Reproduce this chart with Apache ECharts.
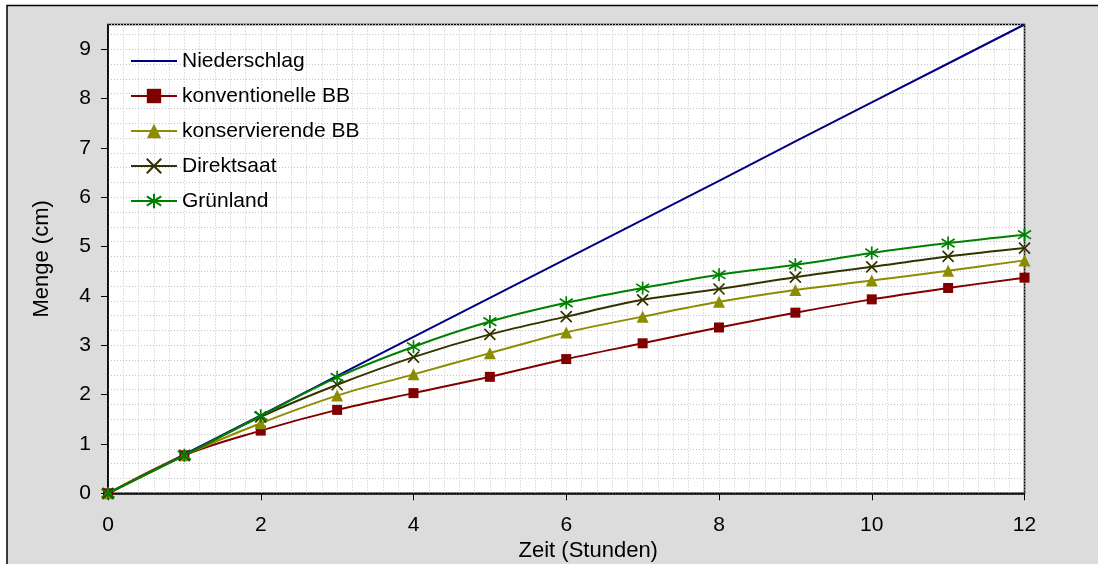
<!DOCTYPE html>
<html>
<head>
<meta charset="utf-8">
<script src="https://cdn.jsdelivr.net/npm/echarts@6/dist/echarts.min.js"></script>
<style>
html,body{margin:0;padding:0;background:#fff;}
#chart{width:1098px;height:564px;}
</style>
</head>
<body>
<div id="chart"></div>
<script>
var hours = [0, 1, 2, 3, 4, 5, 6, 7, 8, 9, 10, 11, 12];
var niederschlag = [0, 0.79, 1.58, 2.38, 3.17, 3.96, 4.75, 5.54, 6.33, 7.13, 7.92, 8.71, 9.5];
var konventionelle = [0, 0.77, 1.27, 1.69, 2.03, 2.36, 2.72, 3.04, 3.36, 3.66, 3.93, 4.16, 4.37];
var konservierende = [0, 0.77, 1.42, 1.98, 2.41, 2.84, 3.26, 3.58, 3.88, 4.12, 4.31, 4.51, 4.72];
var direktsaat = [0, 0.77, 1.55, 2.2, 2.76, 3.22, 3.58, 3.92, 4.14, 4.38, 4.59, 4.8, 4.97];
var gruenland = [0, 0.77, 1.57, 2.35, 2.97, 3.48, 3.86, 4.16, 4.43, 4.63, 4.87, 5.07, 5.24];
var yTickLabels = [0, 1, 2, 3, 4, 5, 6, 7, 8, 9];
var xTickLabels = [0, 2, 4, 6, 8, 10, 12];
var seriesNames = ['Niederschlag', 'konventionelle BB', 'konservierende BB', 'Direktsaat', 'Grünland'];

function pairs(vals) { return hours.map(function (h, i) { return [h, vals[i]]; }); }

var FONT = 'Liberation Sans, Arial, sans-serif';
var gridStyle = { color: '#c4c4c4', width: 1, type: [1, 2] };
var xMark = 'path://M0 0L10 10M10 0L0 10';
var starMark = 'path://M5 0L5 10M1.2 1.8L8.8 8.2M8.8 1.8L1.2 8.2';

function mkSeries(name, vals, color, symbol, size, stroke) {
  return {
    name: name, type: 'line', data: pairs(vals), smooth: name === 'Niederschlag' ? false : 0.35,
    clip: false, showSymbol: symbol !== 'none', symbol: symbol, symbolSize: size,
    lineStyle: { color: color, width: 2 },
    itemStyle: stroke ? { color: 'rgba(0,0,0,0)', borderColor: color, borderWidth: 1.7 } : { color: color, borderWidth: 0 },
    emphasis: { disabled: true }, animation: false
  };
}

var chart = echarts.init(document.getElementById('chart'));
chart.setOption({
  animation: false,
  backgroundColor: '#ffffff',
  graphic: { elements: [{ type: 'rect', z: -100, shape: { x: 7, y: 5.5, width: 1200, height: 700 }, style: { fill: '#dcdcdc', stroke: '#000', lineWidth: 1.5 } }] },
  grid: { left: 108, right: 73.5, top: 24.5, bottom: 70.7, show: true, backgroundColor: '#ffffff', borderColor: '#000', borderWidth: 1.5, containLabel: false, outerBoundsMode: 'none' },
  legend: {
    orient: 'vertical', left: 130, top: 50.5, padding: 0, itemWidth: 46, itemHeight: 18, itemGap: 14,
    textStyle: { fontFamily: FONT, fontSize: 21, color: '#000', lineHeight: 21 },
    data: [
      { name: 'Niederschlag', itemStyle: { opacity: 0 } },
      'konventionelle BB', 'konservierende BB', 'Direktsaat', 'Grünland'
    ]
  },
  xAxis: {
    type: 'value', min: 0, max: 12, interval: 2,
    name: 'Zeit (Stunden)', nameLocation: 'middle', nameGap: 43,
    nameTextStyle: { fontFamily: FONT, fontSize: 22, color: '#000', padding: [0, 0, 0, 44] },
    axisLine: { show: true, lineStyle: { color: '#000', width: 1.5 } },
    axisTick: { show: true, length: 7, lineStyle: { color: '#000', width: 1 } },
    axisLabel: { fontFamily: FONT, fontSize: 21, color: '#000', margin: 21, customValues: xTickLabels },
    splitLine: { show: true, lineStyle: gridStyle },
    minorTick: { show: false, splitNumber: 10 },
    minorSplitLine: { show: true, lineStyle: gridStyle }
  },
  yAxis: [{
    type: 'value', min: 0, max: 9.5, interval: 1,
    name: 'Menge (cm)', nameLocation: 'middle', nameGap: 55, nameRotate: 90,
    nameTextStyle: { fontFamily: FONT, fontSize: 22, color: '#000' },
    axisLine: { show: true, lineStyle: { color: '#000', width: 1.5 } },
    axisTick: { show: true, length: 7, lineStyle: { color: '#000', width: 1 }, customValues: yTickLabels },
    axisLabel: { fontFamily: FONT, fontSize: 21, color: '#000', margin: 17, customValues: yTickLabels },
    splitLine: { show: false }
  }, {
    type: 'value', min: 0, max: 9.5, interval: 0.3, position: 'left',
    axisLine: { show: false }, axisTick: { show: false }, axisLabel: { show: false },
    splitLine: { show: true, lineStyle: gridStyle }
  }],
  series: [
    mkSeries('Niederschlag', niederschlag, '#000080', 'none', 0, false),
    mkSeries('konventionelle BB', konventionelle, '#800000', 'rect', 10, false),
    mkSeries('konservierende BB', konservierende, '#8c8c00', 'triangle', 12, false),
    mkSeries('Direktsaat', direktsaat, '#333300', xMark, 11, true),
    mkSeries('Grünland', gruenland, '#008000', starMark, 13, true)
  ]
});
</script>
</body>
</html>
